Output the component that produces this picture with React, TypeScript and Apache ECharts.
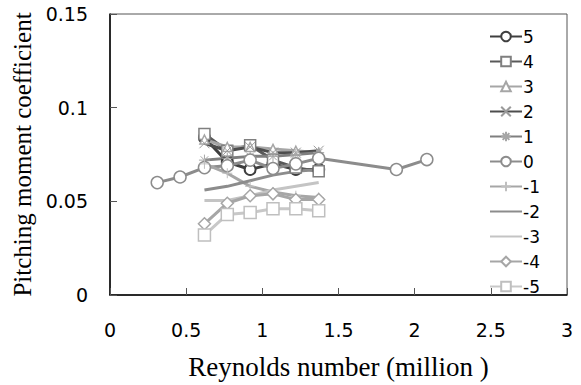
import React, { useEffect, useRef } from "react";
import * as echarts from "echarts";

const reynolds = [0.62, 0.77, 0.92, 1.07, 1.22, 1.37];
const reynolds0 = [0.31, 0.46, 0.62, 0.77, 0.92, 1.07, 1.22, 1.37, 1.88, 2.08];

const seriesNames = ["5", "4", "3", "2", "1", "0", "-1", "-2", "-3", "-4", "-5"];

const cm5 = [0.084, 0.071, 0.067, 0.070, 0.067, 0.067];
const cm4 = [0.086, 0.077, 0.080, 0.072, 0.068, 0.066];
const cm3 = [0.083, 0.079, 0.079, 0.078, 0.077, 0.076];
const cm2 = [0.081, 0.077, 0.079, 0.076, 0.076, 0.077];
const cm1 = [0.072, 0.073, 0.074, 0.074, 0.075, 0.076];
const cm0 = [0.060, 0.063, 0.068, 0.069, 0.072, 0.0675, 0.070, 0.073, 0.067, 0.0723];
const cmM1 = [0.070, 0.065, 0.058, 0.055, 0.053, 0.052];
const cmM2 = [0.056, 0.058, 0.061, 0.064, 0.066, 0.067];
const cmM3 = [0.0505, 0.0505, 0.053, 0.056, 0.058, 0.060];
const cmM4 = [0.038, 0.049, 0.053, 0.054, 0.051, 0.051];
const cmM5 = [0.032, 0.043, 0.044, 0.046, 0.046, 0.045];

const xTicks = { min: 0, max: 3, interval: 0.5 };
const yTicks = { min: 0, max: 0.15, interval: 0.05 };

const X_PATH = "path://M1,1L9,9M9,1L1,9";
const STAR_PATH = "path://M5,0L5,10M0,5L10,5M1.5,1.5L8.5,8.5M8.5,1.5L1.5,8.5";
const PLUS_PATH = "path://M5,0L5,10M0,5L10,5";

export default function App() {
  const ref = useRef<HTMLDivElement>(null);
  useEffect(() => {
    if (!ref.current) return;
    const chart = echarts.init(ref.current, null, { renderer: "svg" });
    const pair = (xs: number[], ys: number[]) => xs.map((x, i) => [x, ys[i]]);
    const mk = (
      name: string,
      xs: number[],
      ys: number[],
      line: string,
      symbol: string,
      size: number,
      fill: string,
      border: string,
      bw: number
    ) => ({
      name,
      type: "line",
      data: pair(xs, ys),
      symbol,
      symbolSize: size,
      showSymbol: symbol !== "none",
      lineStyle: { color: line, width: 3 },
      itemStyle: { color: fill, borderColor: border, borderWidth: bw },
      color: line,
    });
    const series = [
      mk("5", reynolds, cm5, "#3f3f3f", "circle", 11, "#fff", "#3f3f3f", 2),
      mk("4", reynolds, cm4, "#595959", "rect", 11, "#fff", "#7f7f7f", 1.5),
      mk("3", reynolds, cm3, "#a6a6a6", "triangle", 9, "#fff", "#a6a6a6", 1.5),
      mk("2", reynolds, cm2, "#4d4d4d", X_PATH, 10, "none", "#9a9a9a", 1),
      mk("1", reynolds, cm1, "#7f7f7f", STAR_PATH, 11, "none", "#a6a6a6", 1),
      mk("0", reynolds0, cm0, "#8c8c8c", "circle", 12, "#fff", "#8c8c8c", 1.5),
      mk("-1", reynolds, cmM1, "#a6a6a6", PLUS_PATH, 10, "none", "#bfbfbf", 1),
      mk("-2", reynolds, cmM2, "#8c8c8c", "none", 1, "#8c8c8c", "#8c8c8c", 0),
      mk("-3", reynolds, cmM3, "#c4c4c4", "none", 1, "#c4c4c4", "#c4c4c4", 0),
      mk("-4", reynolds, cmM4, "#a6a6a6", "diamond", 12, "#fff", "#a6a6a6", 1.5),
      mk("-5", reynolds, cmM5, "#c8c8c8", "rect", 12, "#fff", "#bfbfbf", 1.5),
    ];
    const legendData = seriesNames.map((n) =>
      n === "-2" || n === "-3"
        ? { name: n, itemStyle: { color: "transparent", borderColor: "transparent", borderWidth: 0 } }
        : { name: n }
    );
    chart.setOption({
      animation: false,
      backgroundColor: "#fff",
      grid: {
        left: 110,
        right: 14,
        top: 14,
        bottom: 90,
        show: true,
        borderColor: "#555",
        borderWidth: 1,
        backgroundColor: "transparent",
        containLabel: false,
        outerBoundsMode: "none",
      },
      legend: {
        data: legendData,
        orient: "vertical",
        left: 484,
        top: 23,
        itemWidth: 32,
        itemHeight: 12,
        itemGap: 8,
        textStyle: {
          fontSize: 17,
          lineHeight: 16,
          color: "#000",
          fontFamily: "DejaVu Sans",
          padding: [0, 0, 0, -4],
        },
      },
      xAxis: {
        type: "value",
        min: xTicks.min,
        max: xTicks.max,
        interval: xTicks.interval,
        name: "Reynolds number (million )",
        nameLocation: "middle",
        nameGap: 58,
        nameTextStyle: { fontFamily: "Liberation Serif", fontSize: 27, color: "#000" },
        axisLine: { lineStyle: { color: "#000", width: 1.5 } },
        axisTick: { inside: true, length: 7, lineStyle: { color: "#555" } },
        axisLabel: { margin: 25, fontSize: 19, color: "#000", fontFamily: "DejaVu Sans" },
        splitLine: { show: false },
      },
      yAxis: {
        type: "value",
        min: yTicks.min,
        max: yTicks.max,
        interval: yTicks.interval,
        name: "Pitching moment coefficient",
        nameLocation: "middle",
        nameGap: 67,
        nameTextStyle: { fontFamily: "Liberation Serif", fontSize: 25, color: "#000" },
        axisLine: { show: true, lineStyle: { color: "#000", width: 1.5 } },
        axisTick: { show: true, inside: true, length: 7, lineStyle: { color: "#555" } },
        axisLabel: { margin: 22, fontSize: 19, color: "#000", fontFamily: "DejaVu Sans" },
        splitLine: { show: false },
      },
      series,
    });
    return () => chart.dispose();
  }, []);
  return <div ref={ref} style={{ width: 581, height: 385, position: "absolute", left: 0, top: 0 }} />;
}
